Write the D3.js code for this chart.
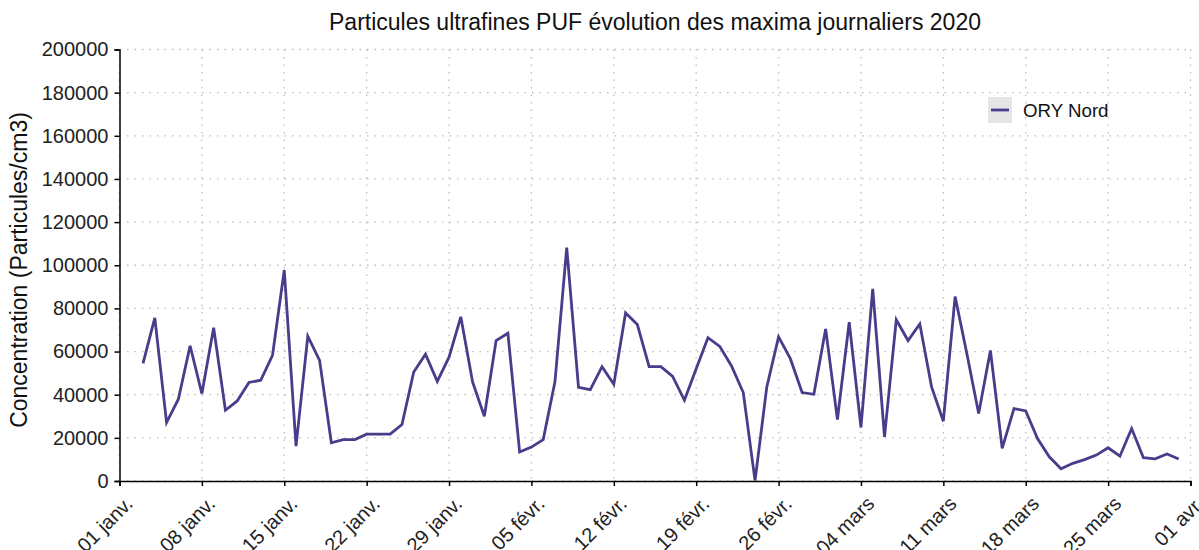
<!DOCTYPE html>
<html>
<head>
<meta charset="utf-8">
<script src="https://cdn.jsdelivr.net/npm/d3@7"></script>
<style>
  body { margin: 0; background: #fff; }
  svg { font-family: "Liberation Sans", Arial, sans-serif; }
</style>
</head>
<body>
<svg id="chart" width="1199" height="550"></svg>
<script>
// daily maxima, 3 janv. -> 31 mars 2020
var startDate = "2020-01-03";
var seriesName = "ORY Nord";
var values = [
  54500, 75600, 27100, 37900, 62700, 40500, 71000, 32800, 37100, 45700,
  46700, 58200, 97800, 16200, 67100, 55900, 17700, 19200, 19200, 21700,
  21700, 21700, 26200, 50500, 58800, 46200, 57400, 76100, 45900, 30000,
  65100, 68500, 13400, 15700, 19200, 46000, 108200, 43400, 42300, 53000,
  44800, 77900, 72500, 53000, 53000, 48500, 37400, 52000, 66400, 62400,
  53300, 41000, 200, 43600, 66800, 56700, 41000, 40200, 70500, 28500,
  73600, 24800, 89000, 20500, 74700, 65100, 72800, 43600, 27700, 85500,
  59000, 31300, 60500, 15100, 33600, 32500, 19700, 11200, 5700, 8200,
  9900, 12000, 15400, 11500, 24300, 10800, 10300, 12500, 10200
];
var yTicks = [0, 20000, 40000, 60000, 80000, 100000, 120000, 140000, 160000, 180000, 200000];
var xDomain = ["2020-01-01", "2020-04-01"];

var parse = d3.timeParse("%Y-%m-%d");
var t0 = parse(startDate);
var data = values.map(function (v, i) {
  return { date: d3.timeDay.offset(t0, i), value: v };
});

var fr = d3.timeFormatLocale({
  dateTime: "%A %e %B %Y à %X", date: "%d/%m/%Y", time: "%H:%M:%S",
  periods: ["AM", "PM"],
  days: ["dimanche", "lundi", "mardi", "mercredi", "jeudi", "vendredi", "samedi"],
  shortDays: ["dim.", "lun.", "mar.", "mer.", "jeu.", "ven.", "sam."],
  months: ["janvier", "février", "mars", "avril", "mai", "juin", "juillet", "août", "septembre", "octobre", "novembre", "décembre"],
  shortMonths: ["janv.", "févr.", "mars", "avr.", "mai", "juin", "juil.", "août", "sept.", "oct.", "nov.", "déc."]
});
var fmt = fr.format("%d %b");

var svg = d3.select("#chart");
var mLeft = 119.5, mRight = 1190.5, mTop = 49.5, mBottom = 481;

var x = d3.scaleTime().domain(xDomain.map(parse)).range([mLeft, mRight]);
var y = d3.scaleLinear().domain([0, 200000]).range([mBottom, mTop]);

var xTicks = d3.range(0, 92, 7).map(function (d) { return d3.timeDay.offset(x.domain()[0], d); });

// grid
svg.append("g").selectAll("line").data(yTicks).enter().append("line")
  .attr("x1", mLeft).attr("x2", mRight)
  .attr("y1", function (d) { return y(d); }).attr("y2", function (d) { return y(d); })
  .attr("stroke", "#bdbdbd").attr("stroke-width", 1.3).attr("stroke-dasharray", "1.5,6");
svg.append("g").selectAll("line").data(xTicks).enter().append("line")
  .attr("x1", function (d) { return x(d); }).attr("x2", function (d) { return x(d); })
  .attr("y1", mTop).attr("y2", mBottom)
  .attr("stroke", "#bdbdbd").attr("stroke-width", 1.3).attr("stroke-dasharray", "1.5,6");

// axes
var yAxis = svg.append("g").attr("transform", "translate(" + mLeft + ",0)")
  .call(d3.axisLeft(y).tickValues(yTicks).tickSize(5).tickPadding(6).tickFormat(d3.format("d")));
var xAxis = svg.append("g").attr("transform", "translate(0," + mBottom + ")")
  .call(d3.axisBottom(x).tickValues(xTicks).tickSize(5).tickFormat(fmt));

[yAxis, xAxis].forEach(function (a) {
  a.select(".domain").attr("stroke", "#000").attr("stroke-width", 1.5);
  a.selectAll(".tick line").attr("stroke", "#000").attr("stroke-width", 1.5);
  a.selectAll("text").attr("fill", "#222").style("font-size", "20px");
});
xAxis.selectAll("text")
  .attr("text-anchor", "end")
  .attr("y", 0).attr("dy", 0)
  .attr("transform", "translate(14,24) rotate(-45)");

// line
var line = d3.line().x(function (d) { return x(d.date); }).y(function (d) { return y(d.value); });
svg.append("path").datum(data)
  .attr("d", line)
  .attr("fill", "none")
  .attr("stroke", "#483d8b")
  .attr("stroke-width", 2.8)
  .attr("stroke-linejoin", "miter");

// title
svg.append("text").attr("x", 655).attr("y", 30).attr("text-anchor", "middle")
  .style("font-size", "23px").attr("fill", "#111")
  .text("Particules ultrafines PUF évolution des maxima journaliers 2020");

// y label
svg.append("text").attr("transform", "translate(27,270) rotate(-90)")
  .attr("text-anchor", "middle").style("font-size", "23px").attr("fill", "#111")
  .text("Concentration (Particules/cm3)");

// legend
var lg = svg.append("g").attr("transform", "translate(988,97)");
lg.append("rect").attr("width", 24).attr("height", 26).attr("fill", "#e5e5e5");
lg.append("line").attr("x1", 3).attr("x2", 21).attr("y1", 13).attr("y2", 13)
  .attr("stroke", "#483d8b").attr("stroke-width", 2.8);
lg.append("text").attr("x", 35).attr("y", 19.5).style("font-size", "18.7px").attr("fill", "#111")
  .text(seriesName);
</script>
</body>
</html>
